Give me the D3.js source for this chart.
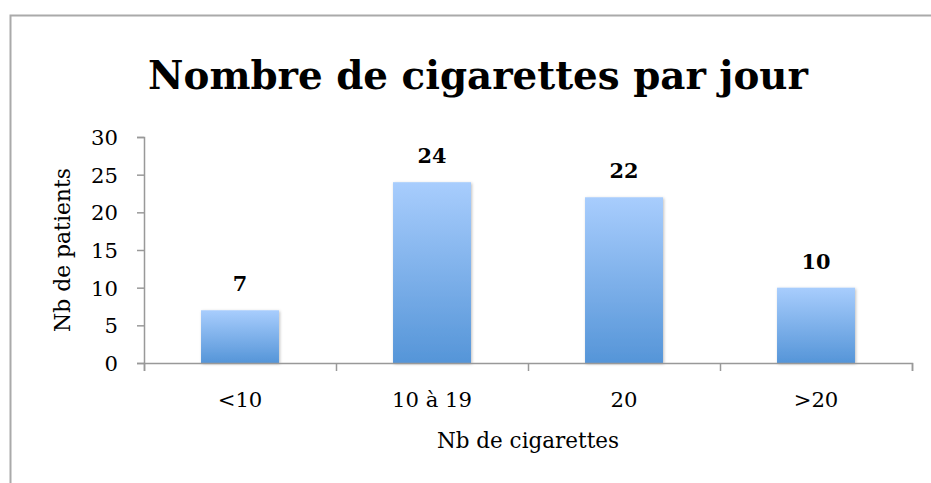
<!DOCTYPE html>
<html><head><meta charset="utf-8">
<script src="https://cdn.jsdelivr.net/npm/d3@7"></script>
<style>html,body{margin:0;padding:0;background:#fff;}svg{display:block;}</style>
</head><body>
<script>
const categories = ["<10", "10 à 19", "20", ">20"];
const values = [7, 24, 22, 10];
const yTicks = [0, 5, 10, 15, 20, 25, 30];
const titleText = "Nombre de cigarettes par jour";
const yTitle = "Nb de patients";
const xTitle = "Nb de cigarettes";

const W = 931, H = 483;
const m = {left: 144, right: 19, top: 137, bottom: 120};
const font = "'DejaVu Serif', serif";
const svg = d3.select("body").append("svg").attr("width", W).attr("height", H);

const defs = svg.append("defs");
const g1 = defs.append("linearGradient").attr("id", "bg").attr("x1", 0).attr("y1", 0).attr("x2", 0).attr("y2", 1);
g1.append("stop").attr("offset", "0%").attr("stop-color", "#a8cdfd");
g1.append("stop").attr("offset", "100%").attr("stop-color", "#5595d8");
const f = defs.append("filter").attr("id", "sh").attr("x", "-20%").attr("y", "-20%").attr("width", "140%").attr("height", "140%");
f.append("feDropShadow").attr("dx", 1).attr("dy", 1).attr("stdDeviation", 1.5).attr("flood-color", "#000").attr("flood-opacity", 0.25);

function fitSize(text, weight, width) {
  const tmp = svg.append("text").attr("font-family", font).attr("font-weight", weight).attr("font-size", 20).text(text);
  const w = tmp.node().getComputedTextLength();
  tmp.remove();
  return +(20 * width / w).toFixed(2);
}
const titleFS = fitSize(titleText, "bold", 660);
const tickFS = fitSize("10 à 19", "normal", 80);
const labelFS = fitSize("24", "bold", 29);
const xtFS = fitSize(xTitle, "normal", 182);
const ytFS = fitSize(yTitle, "normal", 164);

// border
svg.append("path").attr("d", `M10.5,${H} L10.5,15.5 L${W},15.5`).attr("fill", "none").attr("stroke", "#aaaaaa").attr("stroke-width", 2);

const x = d3.scaleBand().domain(categories).range([m.left, W - m.right]).paddingInner(0.594).paddingOuter(0.297);
const y = d3.scaleLinear().domain([0, 30]).range([H - m.bottom, m.top]);

svg.append("text").attr("x", 478).attr("y", 89).attr("text-anchor", "middle")
  .attr("font-family", font).attr("font-weight", "bold").attr("font-size", titleFS).attr("fill", "#000").text(titleText);

svg.selectAll("rect.bar").data(values).join("rect").attr("class", "bar")
  .attr("x", (d, i) => x(categories[i])).attr("width", x.bandwidth())
  .attr("y", d => y(d)).attr("height", d => y(0) - y(d))
  .attr("fill", "url(#bg)").attr("filter", "url(#sh)");

// y axis
const ya = svg.append("g").attr("transform", `translate(${m.left},0)`)
  .call(d3.axisLeft(y).tickValues(yTicks).tickSize(7).tickPadding(19));
ya.select(".domain").attr("stroke", "#999").attr("stroke-width", 1.5);
ya.selectAll(".tick line").attr("stroke", "#999").attr("stroke-width", 1.5);
ya.selectAll("text").attr("font-family", font).attr("font-size", tickFS).attr("fill", "#000").attr("dy", "0.36em");

// x axis
const xb = d3.scaleLinear().domain([0, categories.length]).range([m.left, W - m.right]);
const xa = svg.append("g").attr("transform", `translate(0,${y(0)})`)
  .call(d3.axisBottom(xb).tickValues(d3.range(categories.length + 1)).tickSize(8).tickFormat(""));
xa.select(".domain").attr("stroke", "#999").attr("stroke-width", 1.5);
xa.selectAll(".tick line").attr("stroke", "#999").attr("stroke-width", 1.5);

svg.selectAll("text.xl").data(categories).join("text").attr("class", "xl")
  .attr("x", d => x(d) + x.bandwidth() / 2).attr("y", 407).attr("text-anchor", "middle")
  .attr("font-family", font).attr("font-size", tickFS).attr("fill", "#000").text(d => d);

svg.selectAll("text.vl").data(values).join("text").attr("class", "vl")
  .attr("x", (d, i) => x(categories[i]) + x.bandwidth() / 2).attr("y", d => y(d) - 19).attr("text-anchor", "middle")
  .attr("font-family", font).attr("font-weight", "bold").attr("font-size", labelFS).attr("fill", "#000").text(d => d);

svg.append("text").attr("x", (m.left + W - m.right) / 2).attr("y", 448).attr("text-anchor", "middle")
  .attr("font-family", font).attr("font-size", xtFS).attr("fill", "#000").text(xTitle);

svg.append("text").attr("transform", `translate(70,250) rotate(-90)`).attr("text-anchor", "middle")
  .attr("font-family", font).attr("font-size", ytFS).attr("fill", "#000").text(yTitle);
</script>
</body></html>
